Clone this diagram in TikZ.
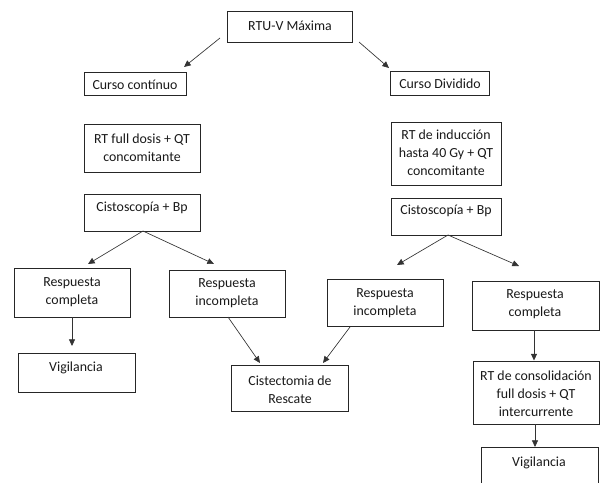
\documentclass[tikz,border=0pt]{standalone}
\usepackage{fontspec}
\setmainfont{Carlito}
\usetikzlibrary{arrows.meta,fit}
\tikzset{
  box/.style={draw=black!85, line width=0.7pt, inner sep=0pt, fill=none},
  txt/.style={align=center, inner sep=0pt, font=\fontsize{10.4}{13.5}\selectfont, text=black!90},
  arr/.style={draw=black!80, line width=0.5pt, -{Triangle[length=5pt,width=4.5pt]}}
}
\begin{document}
\begin{tikzpicture}[x=0.75pt,y=-0.75pt]
\useasboundingbox (0,0) rectangle (603,482);
% boxes
\node[box, fit={(227,11) (352,42)}] (rtu) {};
\node[box, fit={(84,72) (186,95)}] (ccont) {};
\node[box, fit={(390,71) (489,95)}] (cdiv) {};
\node[box, fit={(84,124) (200,172)}] (rtfull) {};
\node[box, fit={(391,122) (501,185)}] (rtind) {};
\node[box, fit={(84,194) (200,231)}] (cistL) {};
\node[box, fit={(391,198) (501,235)}] (cistR) {};
\node[box, fit={(14,268) (130,317)}] (rcL) {};
\node[box, fit={(169,270) (285,317)}] (riL) {};
\node[box, fit={(327,279) (443,326)}] (riR) {};
\node[box, fit={(472,281) (599,330)}] (rcR) {};
\node[box, fit={(18,353) (135,392)}] (vigL) {};
\node[box, fit={(231,365) (348,411)}] (cistec) {};
\node[box, fit={(473,361) (599,424)}] (rtcons) {};
\node[box, fit={(481,447) (598,492)}] (vigR) {};
% texts
\node[txt] (trtu) at (290,25.5) {RTU-V Máxima};
\node[txt] (tccont) at (135,84.5) {Curso contínuo};
\node[txt] (tcdiv) at (440,84) {Curso Dividido};
\node[txt] (trtfull) at (142,147.5) {RT full dosis + QT\\concomitante};
\node[txt] (trtind) at (446,153) {RT de inducción\\hasta 40 Gy + QT\\concomitante};
\node[txt] (tcistL) at (142,207.5) {Cistoscopía + Bp};
\node[txt] (tcistR) at (446,210.5) {Cistoscopía + Bp};
\node[txt] (trcL) at (72,292.5) {Respuesta\\completa};
\node[txt] (triL) at (227,293) {Respuesta\\incompleta};
\node[txt] (triR) at (385,303) {Respuesta\\incompleta};
\node[txt] (trcR) at (535,304.5) {Respuesta\\completa};
\node[txt] (tvigL) at (76,367.5) {Vigilancia};
\node[txt] (tcistec) at (290,390) {Cistectomia de\\Rescate};
\node[txt] (trtcons) at (536,393.5) {RT de consolidación\\full dosis + QT\\intercurrente};
\node[txt] (tvigR) at (539,462.5) {Vigilancia};
% connector end points
\coordinate (a1s) at (220,38);  \coordinate (a1e) at (184,67);
\coordinate (a2s) at (359,42);  \coordinate (a2e) at (389,68);
\coordinate (a3s) at (143,231); \coordinate (a3e) at (88,264);
\coordinate (a4e) at (214,264);
\coordinate (a5s) at (448,235); \coordinate (a5e) at (397,265);
\coordinate (a6e) at (519,266);
\coordinate (a7s) at (72,317);  \coordinate (a7e) at (72,346);
\coordinate (a8s) at (228,317); \coordinate (a8e) at (260,363);
\coordinate (a9s) at (350,327); \coordinate (a9e) at (323,363);
\coordinate (a10s) at (534,330); \coordinate (a10e) at (534,360.5);
\coordinate (a11s) at (535,424); \coordinate (a11e) at (535,447);
% connectors
\draw[arr] (a1s) -- (a1e);
\draw[arr] (a2s) -- (a2e);
\draw[arr] (a3s) -- (a3e);
\draw[arr] (a3s) -- (a4e);
\draw[arr] (a5s) -- (a5e);
\draw[arr] (a5s) -- (a6e);
\draw[arr] (a7s) -- (a7e);
\draw[arr] (a8s) -- (a8e);
\draw[arr] (a9s) -- (a9e);
\draw[arr] (a10s) -- (a10e);
\draw[arr] (a11s) -- (a11e);
\end{tikzpicture}
\end{document}
